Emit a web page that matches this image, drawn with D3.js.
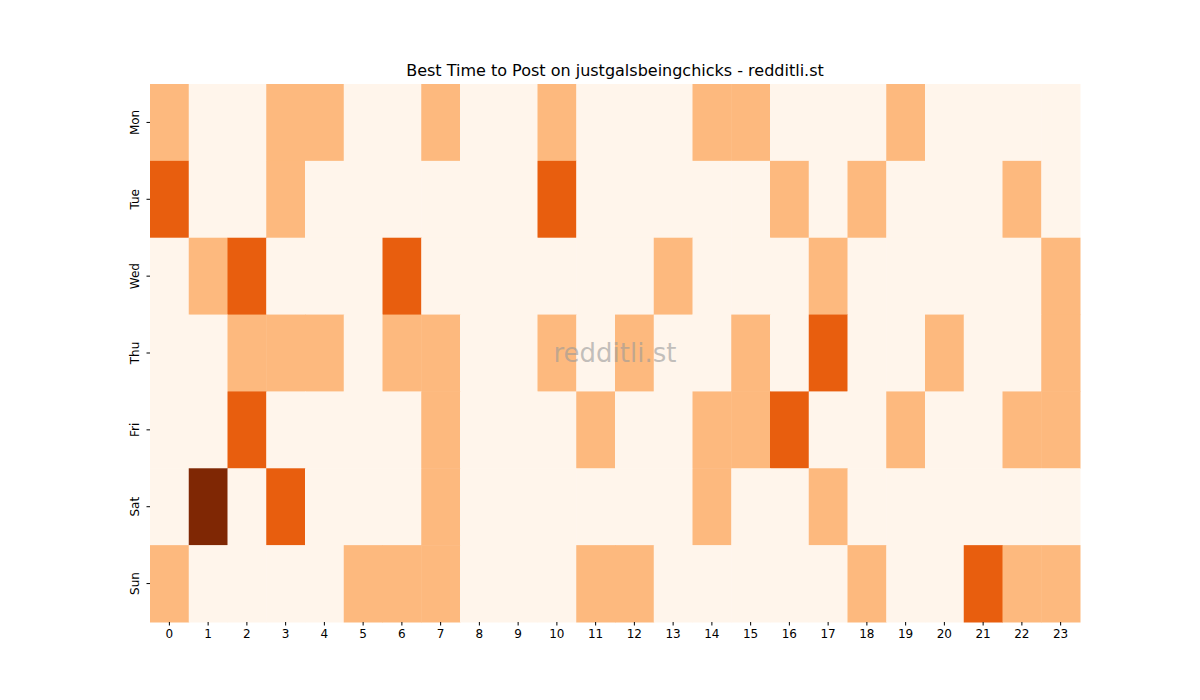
<!DOCTYPE html>
<html>
<head>
<meta charset="utf-8">
<script src="https://cdn.jsdelivr.net/npm/d3@7"></script>
<style>
  body { margin: 0; background: #fff; }
  text { font-family: "DejaVu Sans", sans-serif; }
</style>
</head>
<body>
<div id="chart"></div>
<script>
// data
var days = ["Mon", "Tue", "Wed", "Thu", "Fri", "Sat", "Sun"];
var hours = d3.range(24);
var mon = [1,0,0,1,1,0,0,1,0,0,1,0,0,0,1,1,0,0,0,1,0,0,0,0];
var tue = [2,0,0,1,0,0,0,0,0,0,2,0,0,0,0,0,1,0,1,0,0,0,1,0];
var wed = [0,1,2,0,0,0,2,0,0,0,0,0,0,1,0,0,0,1,0,0,0,0,0,1];
var thu = [0,0,1,1,1,0,1,1,0,0,1,0,1,0,0,1,0,2,0,0,1,0,0,1];
var fri = [0,0,2,0,0,0,0,1,0,0,0,1,0,0,1,1,2,0,0,1,0,0,1,1];
var sat = [0,3,0,2,0,0,0,1,0,0,0,0,0,0,1,0,0,1,0,0,0,0,0,0];
var sun = [1,0,0,0,0,1,1,1,0,0,0,1,1,0,0,0,0,0,1,0,0,2,1,1];
var rows = [mon, tue, wed, thu, fri, sat, sun];

var width = 1200, height = 700;
var plotLeft = 150, plotRight = 1080, plotTop = 84, plotBottom = 622;

var svg = d3.select("#chart").append("svg")
  .attr("width", width).attr("height", height);

var x = d3.scaleBand().domain(hours).range([plotLeft, plotRight]);
var y = d3.scaleBand().domain(days).range([plotTop, plotBottom]);
var color = d3.scaleSequential(d3.interpolateOranges).domain([0, 3]);

var cells = [];
rows.forEach(function(r, i) {
  r.forEach(function(v, h) { cells.push({day: days[i], hour: h, value: v}); });
});

svg.selectAll("rect.cell").data(cells).enter().append("rect")
  .attr("class", "cell")
  .attr("x", function(d) { return x(d.hour); })
  .attr("y", function(d) { return y(d.day); })
  .attr("width", x.bandwidth() + 0.5)
  .attr("height", y.bandwidth() + 0.5)
  .attr("fill", function(d) { return color(d.value); });

var xAxis = svg.append("g")
  .attr("transform", "translate(0," + plotBottom + ")")
  .call(d3.axisBottom(x).tickSize(3.5).tickPadding(3.5));
xAxis.select(".domain").remove();
xAxis.selectAll("text").attr("font-size", 12).attr("fill", "#000");

var yAxis = svg.append("g")
  .attr("transform", "translate(" + plotLeft + ",0)")
  .call(d3.axisLeft(y).tickSize(3.5).tickPadding(3.5));
yAxis.select(".domain").remove();
yAxis.selectAll("text")
  .attr("font-size", 12).attr("fill", "#000")
  .attr("text-anchor", "middle")
  .attr("x", 0).attr("dy", 0)
  .attr("transform", "translate(-11,0) rotate(-90)");

svg.append("text")
  .attr("x", (plotLeft + plotRight) / 2).attr("y", 76)
  .attr("text-anchor", "middle").attr("font-size", 16)
  .text("Best Time to Post on justgalsbeingchicks - redditli.st");

svg.append("text")
  .attr("x", 615).attr("y", 362)
  .attr("text-anchor", "middle").attr("font-size", 26)
  .attr("fill", "#999").attr("fill-opacity", 0.6)
  .text("redditli.st");
</script>
</body>
</html>
